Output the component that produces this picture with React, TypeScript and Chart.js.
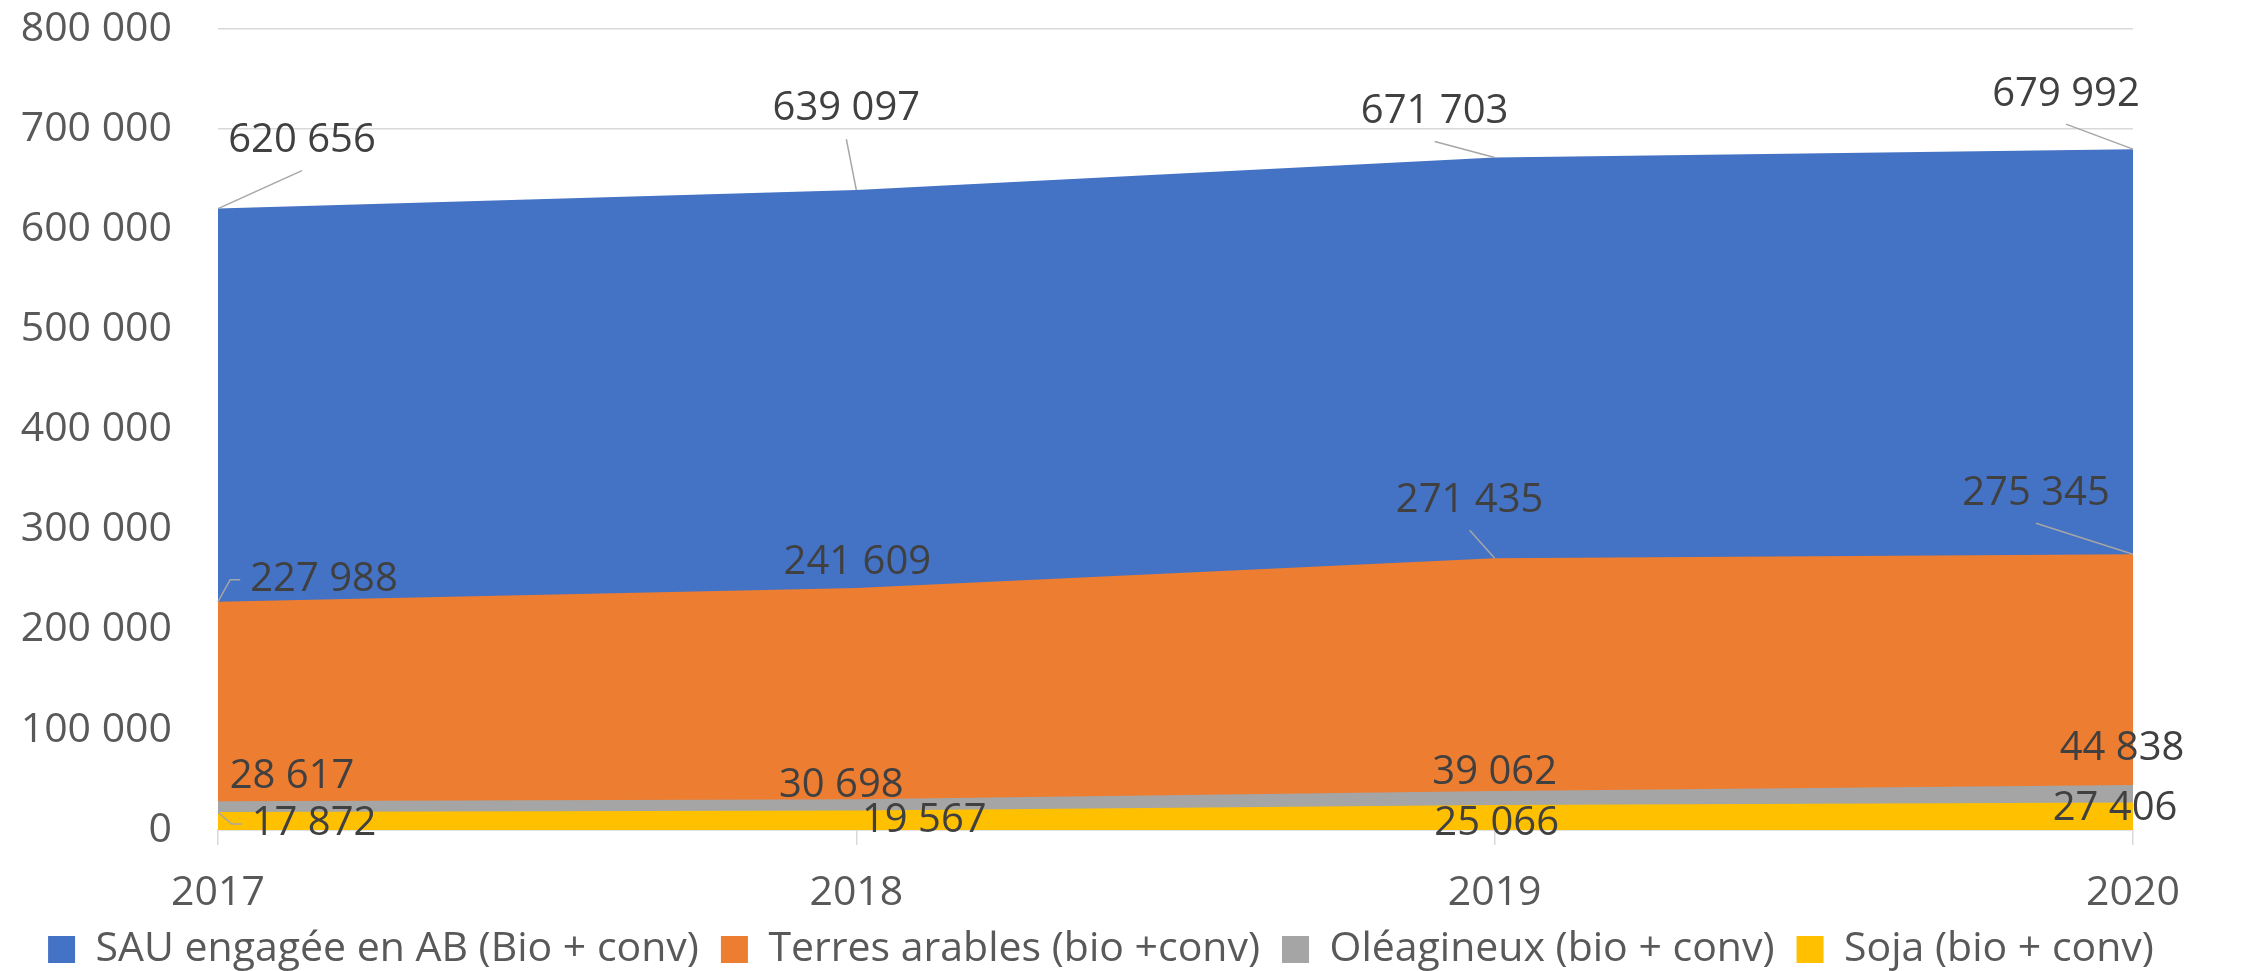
import React, { useEffect, useRef } from "react";
import { Chart, registerables } from "chart.js";

Chart.register(...registerables);

// ---- Data ----
const years = ["2017", "2018", "2019", "2020"];
const sauValues = [620656, 639097, 671703, 679992];
const terresValues = [227988, 241609, 271435, 275345];
const oleagValues = [28617, 30698, 39062, 44838];
const sojaValues = [17872, 19567, 25066, 27406];

const seriesNames = [
  "SAU engagée en AB (Bio + conv)",
  "Terres arables (bio +conv)",
  "Oléagineux (bio + conv)",
  "Soja (bio + conv)",
];
const seriesColors = ["#4472C4", "#ED7D31", "#A5A5A5", "#FFC000"];

const yTicksMin = 0;
const yTicksMax = 800000;
const yTicksStep = 100000;

// ---- Label placement (pixel offsets of label centre from its point) ----
const sauLabelOffsets = [[84, -68], [-10, -81], [-60, -46], [-67, -55]];
const terresLabelOffsets = [[106, -22], [1, -25], [-25, -58], [-97, -61]];
const oleagLabelOffsets = [[74, -25], [-15, -14], [0, -18], [-11, -36]];
const sojaLabelOffsets = [[96, 12], [68, 10], [2, 19], [-18, 6]];
const labelOffsets = [sauLabelOffsets, terresLabelOffsets, oleagLabelOffsets, sojaLabelOffsets];

const FONT = "'Open Sans', 'Noto Sans', sans-serif";

const fmt = (v: number) => String(Math.round(v)).replace(/\B(?=(\d{3})+(?!\d))/g, " ");

const dataLabelPlugin = {
  id: "dataLabelsLeaders",
  afterDatasetsDraw(chart: any) {
    const ctx = chart.ctx;
    ctx.save();
    ctx.font = `40px ${FONT}`;
    ctx.textAlign = "center";
    ctx.textBaseline = "middle";
    chart.data.datasets.forEach((ds: any, i: number) => {
      const meta = chart.getDatasetMeta(i);
      meta.data.forEach((pt: any, j: number) => {
        const off = labelOffsets[i][j];
        const px = pt.x;
        const py = pt.y;
        const cx = px + off[0];
        const cy = py + off[1];
        const text = fmt(ds.data[j]);
        const w = ctx.measureText(text).width;
        const L = cx - w / 2 - 10;
        const R = cx + w / 2 + 10;
        const T = cy - 30;
        const B = cy + 30;
        const dxOut = px < L ? L - px : px > R ? px - R : 0;
        const dyOut = py < T ? T - py : py > B ? py - B : 0;
        const dist = Math.sqrt(dxOut * dxOut + dyOut * dyOut);
        if (dist > 12) {
          ctx.beginPath();
          ctx.strokeStyle = "#A6A6A6";
          ctx.lineWidth = 1.5;
          ctx.moveTo(px, py);
          if (dyOut > 0) {
            ctx.lineTo(cx, py > B ? B : T);
          } else if (px < L) {
            ctx.lineTo(L - 10, cy);
            ctx.lineTo(L, cy);
          } else {
            ctx.lineTo(R + 10, cy);
            ctx.lineTo(R, cy);
          }
          ctx.stroke();
        }
        ctx.fillStyle = "#404040";
        ctx.fillText(text, cx, cy);
      });
    });
    ctx.restore();
  },
};

export default function App() {
  const canvasRef = useRef<HTMLCanvasElement | null>(null);

  useEffect(() => {
    if (!canvasRef.current) return;
    const allValues = [sauValues, terresValues, oleagValues, sojaValues];
    const chart = new Chart(canvasRef.current, {
      type: "line",
      data: {
        labels: years,
        datasets: allValues.map((vals, i) => ({
          label: seriesNames[i],
          data: vals,
          backgroundColor: seriesColors[i],
          borderColor: seriesColors[i],
          borderWidth: 0,
          pointRadius: 0,
          pointHoverRadius: 0,
          fill: "origin",
          tension: 0,
          order: 3 - i,
        })),
      },
      options: {
        animation: false,
        responsive: true,
        maintainAspectRatio: false,
        layout: { padding: { top: 29, right: 44, left: 0, bottom: 0 } },
        plugins: {
          tooltip: { enabled: false },
          legend: {
            display: true,
            position: "bottom",
            align: "center",
            labels: {
              font: { family: FONT, size: 41 },
              color: "#595959",
              boxWidth: 27,
              boxHeight: 27,
              padding: 22,
              sort: (a: any, b: any) => a.datasetIndex - b.datasetIndex,
            },
          },
        },
        scales: {
          x: {
            type: "category",
            offset: false,
            grid: {
              display: true,
              drawOnChartArea: false,
              drawTicks: true,
              tickLength: 15,
              color: "#D9D9D9",
              lineWidth: 1.5,
            },
            border: { display: true, color: "#D9D9D9", width: 1.5 },
            ticks: {
              font: { family: FONT, size: 41 },
              color: "#595959",
              padding: 24,
              maxRotation: 0,
              autoSkip: false,
            },
            afterFit: (scale: any) => {
              scale.height = 77;
              scale.paddingRight = 113;
            },
          },
          y: {
            min: yTicksMin,
            max: yTicksMax,
            grid: {
              color: "#D9D9D9",
              lineWidth: 1.5,
              drawTicks: false,
            },
            border: { display: false },
            ticks: {
              stepSize: yTicksStep,
              font: { family: FONT, size: 41 },
              color: "#595959",
              padding: 46,
              callback: (v: any) => fmt(Number(v)),
            },
            afterFit: (scale: any) => {
              scale.width = 218;
              scale.paddingTop = 0;
              scale.paddingBottom = 0;
            },
          },
        },
      },
      plugins: [dataLabelPlugin],
    });
    return () => chart.destroy();
  }, []);

  return (
    <div
      style={{
        position: "fixed",
        left: 0,
        top: 0,
        width: 2246,
        height: 971,
        overflow: "hidden",
        background: "#ffffff",
      }}
    >
      <div style={{ position: "relative", width: 2246, height: 980 }}>
        <canvas ref={canvasRef} />
      </div>
    </div>
  );
}
